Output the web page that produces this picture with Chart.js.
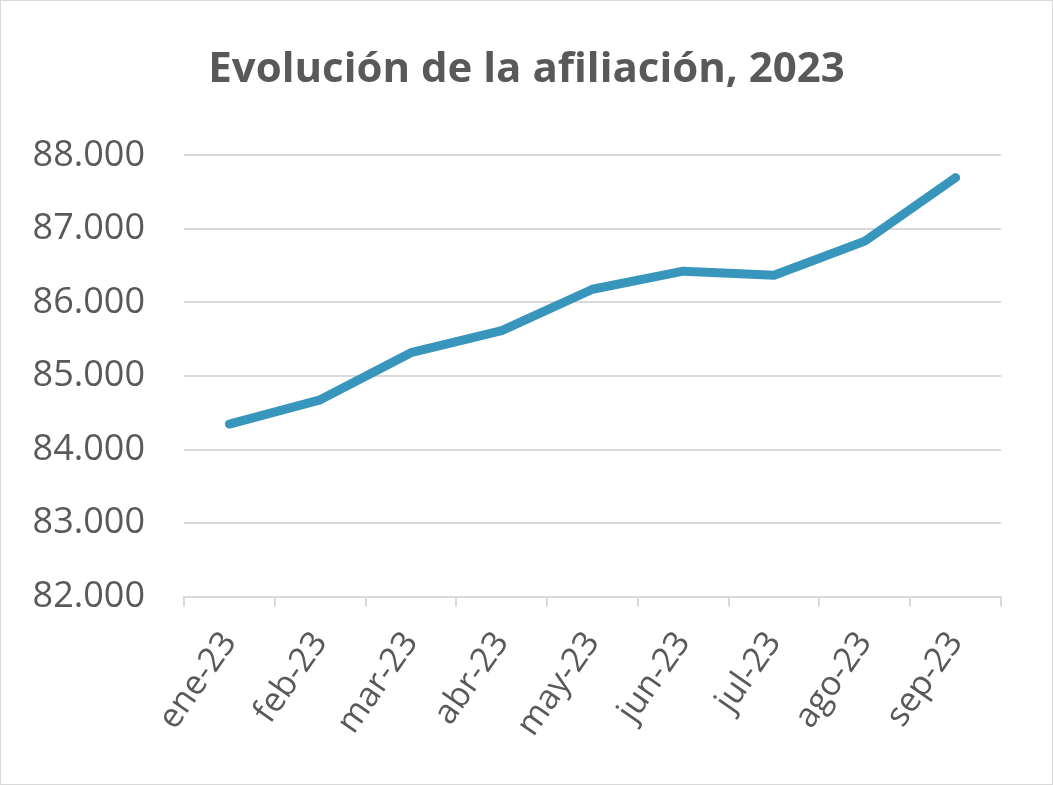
<!DOCTYPE html>
<html>
<head>
<meta charset="utf-8">
<script src="https://cdn.jsdelivr.net/npm/chart.js@4"></script>
<style>
  html, body { margin: 0; padding: 0; background: #fff; }
  #wrap { position: relative; width: 1051px; height: 783px; border: 1px solid #d9d9d9; }
</style>
</head>
<body>
<div id="wrap"><canvas id="line-chart"></canvas></div>
<script>
// datos
var meses = ['ene-23', 'feb-23', 'mar-23', 'abr-23', 'may-23', 'jun-23', 'jul-23', 'ago-23', 'sep-23'];
var afiliados = [84346, 84676, 85317, 85616, 86180, 86426, 86371, 86834, 87698];
var ejeMin = 82000;
var ejeMax = 88000;
var ejePaso = 1000;

function miles(v) {
  return String(v).replace(/\B(?=(\d{3})+(?!\d))/g, '.');
}

var ctx = document.querySelector('#line-chart').getContext('2d');
var chart = new Chart(ctx, {
  type: 'line',
  data: {
    labels: meses,
    datasets: [{
      label: 'Afiliación',
      data: afiliados,
      borderColor: '#3896bd',
      borderWidth: 9,
      borderCapStyle: 'round',
      borderJoinStyle: 'round',
      pointRadius: 0,
      tension: 0
    }]
  },
  options: {
    responsive: true,
    maintainAspectRatio: false,
    animation: false,
    layout: { padding: { top: 44, left: 0, right: 0, bottom: 22 } },
    plugins: {
      legend: { display: false },
      tooltip: { enabled: false },
      title: {
        display: true,
        text: 'Evolución de la afiliación, 2023',
        color: '#595959',
        font: { family: 'Open Sans', size: 42, weight: 'bold' },
        padding: { top: 0, bottom: 60 }
      }
    },
    scales: {
      x: {
        offset: true,
        grid: {
          offset: true,
          drawOnChartArea: false,
          drawTicks: true,
          tickLength: 10,
          color: '#d9d9d9',
          lineWidth: 2
        },
        border: { color: '#d9d9d9', width: 2 },
        ticks: {
          color: '#595959',
          font: { family: 'Open Sans', size: 34 },
          maxRotation: 55,
          minRotation: 55,
          padding: 18
        }
      },
      y: {
        min: ejeMin,
        max: ejeMax,
        grid: { color: '#d9d9d9', lineWidth: 2, drawTicks: false },
        border: { display: false },
        afterFit: function (scale) { scale.width = 183; },
        ticks: {
          stepSize: ejePaso,
          color: '#595959',
          font: { family: 'Open Sans', size: 36 },
          padding: 39,
          callback: function (v) { return miles(v); }
        }
      },
      // eje vacío a la derecha, solo para dejar margen
      margen: {
        position: 'right',
        grid: { display: false },
        border: { display: false },
        ticks: { display: false },
        afterFit: function (scale) { scale.width = 51; }
      }
    }
  }
});
</script>
</body>
</html>
